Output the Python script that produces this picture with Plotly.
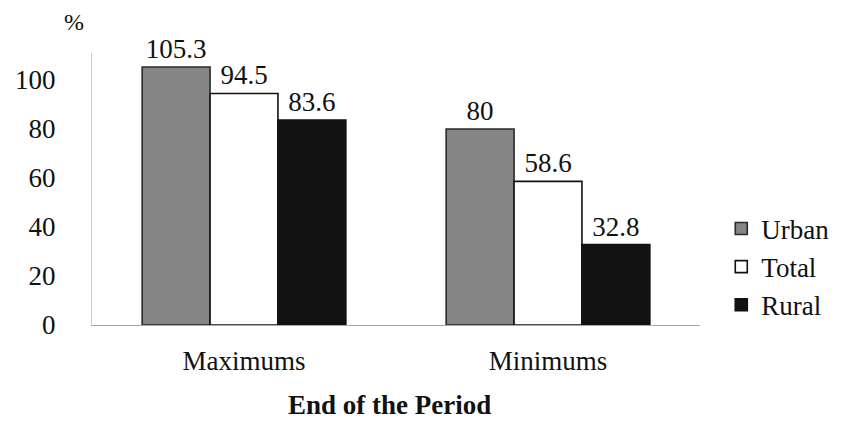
import plotly.graph_objects as go

categories = ["Maximums", "Minimums"]
urban = [105.3, 80]
total = [94.5, 58.6]
rural = [83.6, 32.8]
urban_labels = ["105.3", "80"]
total_labels = ["94.5", "58.6"]
rural_labels = ["83.6", "32.8"]
y_ticks = [0, 20, 40, 60, 80, 100]

FONT = "Liberation Serif, Times New Roman, serif"
FS = 27

fig = go.Figure()
series = [
    ("Urban", urban, urban_labels, "#858585", "#2a2a2a"),
    ("Total", total, total_labels, "#ffffff", "#111111"),
    ("Rural", rural, rural_labels, "#121212", "#111111"),
]
for name, vals, labels, fill, line in series:
    fig.add_trace(go.Bar(
        name=name, x=categories, y=vals, text=labels,
        textposition="outside", cliponaxis=False,
        textfont=dict(family=FONT, size=FS, color="#111"),
        marker=dict(color=fill, line=dict(color=line, width=1.6)),
        legendgroup=name,
    ))

fig.update_layout(
    width=864, height=441,
    paper_bgcolor="white", plot_bgcolor="white",
    margin=dict(l=92, r=164, t=53, b=116, autoexpand=False),
    barmode="group", bargap=0.33, bargroupgap=0,
    font=dict(family=FONT, size=FS, color="#111"),
    showlegend=True,
    legend=dict(x=1.035, y=(325 - 267) / 272, yanchor="middle", xanchor="left",
                font=dict(family=FONT, size=27, color="#111"),
                tracegroupgap=0, bgcolor="rgba(0,0,0,0)"),
    xaxis=dict(showline=True, linecolor="#aaaaaa", linewidth=1,
               ticks="", tickfont=dict(family=FONT, size=FS),
               ticklabelstandoff=12, showgrid=False, zeroline=False,
               automargin=False),
    yaxis=dict(range=[0, 111], tickvals=y_ticks, showline=True,
               linecolor="#cccccc", linewidth=1, ticks="", showgrid=False,
               zeroline=False, tickfont=dict(family=FONT, size=FS),
               ticklabelstandoff=30, automargin=False),
    annotations=[
        dict(text="%", xref="paper", yref="paper", x=(86 - 92) / 608,
             y=(325 - 22) / 272, xanchor="right", yanchor="middle",
             showarrow=False, font=dict(family=FONT, size=24, color="#111")),
        dict(text="<b>End of the Period</b>", xref="paper", yref="paper",
             x=(389 - 92) / 608, y=-(405 - 325) / 272, xanchor="center",
             yanchor="middle", showarrow=False,
             font=dict(family=FONT, size=27, color="#111")),
    ],
)

fig.write_html("out.html", config={"displayModeBar": False},
               post_script="document.body.style.margin='0';")
